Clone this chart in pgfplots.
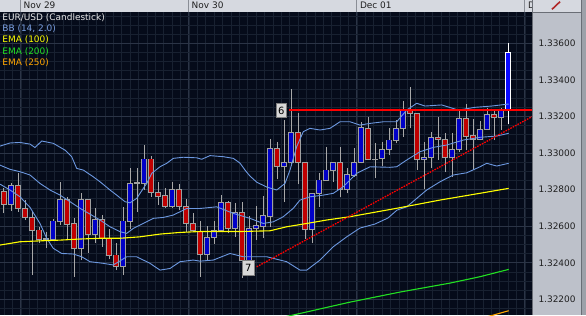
\documentclass[border=0pt]{standalone}
\usepackage{fontspec}
\setmainfont{DejaVu Sans}
\usepackage{pgfplots}
\usepackage{pgfplotstable}
\pgfplotsset{compat=1.18}

\definecolor{bgnavy}{HTML}{050B1A}
\definecolor{gridminor}{HTML}{182131}
\definecolor{gridmajor}{HTML}{2B3446}
\definecolor{topbar}{HTML}{D6D9E0}
\definecolor{panel}{HTML}{BDC1CA}
\definecolor{edgegray}{HTML}{9DA1A9}
\definecolor{panelline}{HTML}{6A6E76}
\definecolor{sepgray}{HTML}{8A8E96}
\definecolor{cred}{HTML}{C00000}
\definecolor{cblue}{HTML}{0000C8}
\definecolor{hlblue}{HTML}{0A0AFF}
\definecolor{bodygray}{HTML}{A0A0A0}
\definecolor{wickgray}{HTML}{A8A8A8}
\definecolor{bbblue}{HTML}{6C98E0}
\definecolor{bbtext}{HTML}{7BA0E2}
\definecolor{emay}{HTML}{FFFF00}
\definecolor{emag}{HTML}{22E022}
\definecolor{emao}{HTML}{FFA500}
\definecolor{trend}{HTML}{FF0000}
\definecolor{legwhite}{HTML}{E6E6E6}
\definecolor{labelgray}{HTML}{D8D8D8}
\definecolor{labelborder}{HTML}{808080}
\definecolor{pencilred}{HTML}{B02828}
\definecolor{datetext}{HTML}{202020}

\newcommand\fsz{\fontsize{9}{10}\selectfont}

\pgfplotstableread{
k open high low close
0 1.32788 1.32809 1.32672 1.32720
1 1.32720 1.32836 1.32683 1.32820
2 1.32820 1.32891 1.32679 1.32698
3 1.32698 1.32743 1.32634 1.32646
4 1.32648 1.32683 1.32333 1.32579
5 1.32579 1.32597 1.32508 1.32528
6 1.32530 1.32570 1.32483 1.32528
7 1.32528 1.32639 1.32524 1.32628
8 1.32624 1.32840 1.32606 1.32747
9 1.32747 1.32761 1.32528 1.32612
10 1.32612 1.32645 1.32322 1.32479
11 1.32479 1.32783 1.32415 1.32747
12 1.32747 1.32747 1.32455 1.32555
13 1.32555 1.32698 1.32506 1.32637
14 1.32637 1.32661 1.32488 1.32534
15 1.32534 1.32583 1.32419 1.32442
16 1.32442 1.32506 1.32360 1.32382
17 1.32382 1.32706 1.32333 1.32628
18 1.32628 1.32916 1.32583 1.32834
19 1.32834 1.32916 1.32679 1.32836
20 1.32834 1.33044 1.32798 1.32967
21 1.32967 1.32985 1.32761 1.32785
22 1.32785 1.32841 1.32716 1.32765
23 1.32765 1.32809 1.32699 1.32710
24 1.32708 1.32839 1.32698 1.32802
25 1.32802 1.32829 1.32688 1.32706
26 1.32706 1.32747 1.32570 1.32615
27 1.32615 1.32674 1.32570 1.32579
28 1.32573 1.32628 1.32324 1.32446
29 1.32446 1.32601 1.32415 1.32539
30 1.32539 1.32628 1.32502 1.32575
31 1.32575 1.32770 1.32570 1.32728
32 1.32728 1.32738 1.32561 1.32588
33 1.32588 1.32727 1.32542 1.32674
34 1.32674 1.32734 1.32316 1.32411
35 1.32411 1.32656 1.32404 1.32588
36 1.32588 1.32710 1.32524 1.32601
37 1.32601 1.32765 1.32535 1.32656
38 1.32656 1.33075 1.32597 1.33026
39 1.33026 1.33062 1.32856 1.32929
40 1.32929 1.33181 1.32734 1.32949
41 1.32949 1.33348 1.32929 1.33111
42 1.33111 1.33217 1.32830 1.32949
43 1.32949 1.32949 1.32528 1.32583
44 1.32583 1.32780 1.32506 1.32780
45 1.32780 1.32892 1.32706 1.32852
46 1.32852 1.33034 1.32852 1.32907
47 1.32907 1.32949 1.32843 1.32949
48 1.32949 1.33034 1.32758 1.32803
49 1.32803 1.32916 1.32780 1.32880
50 1.32880 1.33026 1.32870 1.32949
51 1.32949 1.33171 1.32944 1.33138
52 1.33135 1.33199 1.32962 1.32966
53 1.32966 1.33056 1.32862 1.32967
54 1.32971 1.33062 1.32929 1.33020
55 1.33020 1.33135 1.32989 1.33071
56 1.33071 1.33181 1.33053 1.33135
57 1.33135 1.33286 1.33089 1.33231
58 1.33230 1.33363 1.33135 1.33217
59 1.33217 1.33217 1.32907 1.32966
60 1.32966 1.33062 1.32802 1.32977
61 1.32974 1.33117 1.32916 1.33086
62 1.33086 1.33195 1.32962 1.33075
63 1.33075 1.33109 1.32898 1.32974
64 1.32974 1.33111 1.32870 1.33020
65 1.33020 1.33230 1.33007 1.33190
66 1.33190 1.33268 1.33016 1.33093
67 1.33097 1.33184 1.32907 1.33075
68 1.33075 1.33177 1.33071 1.33130
69 1.33130 1.33245 1.33126 1.33208
70 1.33208 1.33230 1.33071 1.33195
71 1.33195 1.33246 1.33126 1.33231
}\candles

\pgfplotstableread{
k open high low close
72 1.33231 1.33603 1.33157 1.33549
}\lastcandle

\begin{document}
\begin{tikzpicture}[x=1bp,y=1bp]
\fill[panel] (532,0) rectangle (581,303);
\fill[edgegray] (581,0) rectangle (586,315);
\fill[topbar] (0,303) rectangle (581,315);

\begin{axis}[
  width=532bp, height=303bp, scale only axis,
  at={(0,0)}, anchor=south west,
  xmin=-0.5714, xmax=75.4286,
  ymin=1.321146, ymax=1.337711,
  enlargelimits=false,
  axis line style={draw=none},
  major tick length=0pt, minor tick length=0pt,
  axis background/.style={fill=bgnavy},
  xtick={2.4,26.4,50.4,74.4}, xticklabels={},
  minor xtick={0,1.2,...,75.6},
  ytick={1.322,1.324,1.326,1.328,1.330,1.332,1.334,1.336},
  yticklabels={1.32200,1.32400,1.32600,1.32800,1.33000,1.33200,1.33400,1.33600},
  yticklabel pos=right,
  yticklabel style={anchor=west, inner sep=0pt, xshift=6.3bp, font=\fsz, text=datetext},
  minor ytick={1.3215,1.3225,1.3230,1.3235,1.3245,1.3250,1.3255,1.3265,1.3270,1.3275,1.3285,1.3290,1.3295,1.3305,1.3310,1.3315,1.3325,1.3330,1.3335,1.3345,1.3350,1.3355,1.3365,1.3370,1.3375},
  grid=both,
  minor grid style={draw=gridminor, line width=0.6bp},
  major grid style={draw=gridmajor, line width=0.9bp},
]
% wicks
\addplot [draw=none, mark=none, forget plot,
  error bars/.cd, y dir=plus, y explicit, error mark=none,
  error bar style={draw=wickgray, line width=1bp}]
  table [x=k, y=low, y error plus expr={\thisrow{high}-\thisrow{low}}] {\candles};
% body outlines
\addplot [draw=none, mark=none, forget plot,
  error bars/.cd, y dir=plus, y explicit, error mark=none,
  error bar style={draw=bodygray, line width=5.2bp, line cap=butt}]
  table [x=k, y expr={min(\thisrow{open},\thisrow{close})-0.00003}, y error plus expr={abs(\thisrow{close}-\thisrow{open})+0.00006}] {\candles};
% red bodies
\addplot [draw=none, mark=none, forget plot,
  error bars/.cd, y dir=plus, y explicit, error mark=none,
  error bar style={draw=cred, line width=3.4bp, line cap=butt}]
  table [x=k, y expr={\thisrow{close}+0.00002}, y error plus expr={max(\thisrow{open}-\thisrow{close}-0.00004,0)}] {\candles};
% blue bodies
\addplot [draw=none, mark=none, forget plot,
  error bars/.cd, y dir=plus, y explicit, error mark=none,
  error bar style={draw=cblue, line width=3.4bp, line cap=butt}]
  table [x=k, y expr={\thisrow{open}+0.00002}, y error plus expr={max(\thisrow{close}-\thisrow{open}-0.00004,0)}] {\candles};
% last (current) candle
\addplot [draw=none, mark=none, forget plot,
  error bars/.cd, y dir=plus, y explicit, error mark=none,
  error bar style={draw=white, line width=1bp}]
  table [x=k, y=low, y error plus expr={\thisrow{high}-\thisrow{low}}] {\lastcandle};
\addplot [draw=none, mark=none, forget plot,
  error bars/.cd, y dir=plus, y explicit, error mark=none,
  error bar style={draw=white, line width=5.2bp, line cap=butt}]
  table [x=k, y expr={\thisrow{open}-0.00003}, y error plus expr={\thisrow{close}-\thisrow{open}+0.00006}] {\lastcandle};
\addplot [draw=none, mark=none, forget plot,
  error bars/.cd, y dir=plus, y explicit, error mark=none,
  error bar style={draw=hlblue, line width=3.4bp, line cap=butt}]
  table [x=k, y expr={\thisrow{open}+0.00002}, y error plus expr={\thisrow{close}-\thisrow{open}-0.00004}] {\lastcandle};

% Bollinger upper
\addplot [bbblue, line width=0.9bp, mark=none] coordinates {
(-0.571,1.33038) (0.857,1.33055) (2.286,1.33058) (3.714,1.33049) (4.429,1.33030) (5.386,1.33066) (7.043,1.33053) (8.714,1.33016) (9.671,1.32980) (10.386,1.32916) (11.329,1.32907) (12.757,1.32870) (13.714,1.32843) (15.143,1.32798) (16.1,1.32770) (17.286,1.32734) (18,1.32728) (18.957,1.32752) (19.9,1.32807) (20.386,1.32834) (21.1,1.32889) (22.286,1.32925) (23.243,1.32944) (24.186,1.32971) (25.614,1.32977) (27.529,1.32974) (28.243,1.32966) (29.429,1.32986) (31.329,1.32980) (32.757,1.32971) (33.714,1.32945) (34.429,1.32907) (35.143,1.32874) (36.1,1.32841) (37.529,1.32814) (38.957,1.32798) (40.143,1.32834) (40.857,1.32907) (41.814,1.33035) (42.757,1.33117) (43.714,1.33135) (45.143,1.33126) (46.571,1.33135) (48,1.33171) (49.429,1.33171) (50.857,1.33153) (52.286,1.33162) (54.186,1.33171) (56.1,1.33171) (57.529,1.33235) (58.957,1.33272) (60.143,1.33257) (62.529,1.33263) (64.9,1.33235) (67.286,1.33250) (69.671,1.33257) (72.1,1.33268)};
% Bollinger middle
\addplot [bbblue, line width=0.9bp, mark=none] coordinates {
(-0.571,1.32934) (0.857,1.32911) (2.286,1.32898) (3.714,1.32880) (5.143,1.32834) (6.571,1.32798) (8,1.32770) (9.429,1.32734) (10.857,1.32698) (12.286,1.32666) (13.714,1.32634) (15.143,1.32597) (16.571,1.32570) (17.529,1.32561) (18.471,1.32588) (19.9,1.32615) (21.329,1.32643) (22.757,1.32648) (24.186,1.32661) (26.1,1.32697) (28,1.32697) (30.386,1.32706) (32.757,1.32670) (35.143,1.32643) (37.043,1.32615) (38.471,1.32624) (39.9,1.32652) (41.329,1.32698) (42.286,1.32743) (43.714,1.32761) (45.614,1.32770) (47.043,1.32780) (48.471,1.32816) (50.386,1.32889) (52.286,1.32925) (55.143,1.32922) (56.1,1.32925) (57.529,1.32962) (59.429,1.33007) (61.329,1.33031) (63.243,1.33044) (65.614,1.33071) (68,1.33086) (70.386,1.33093) (72.1,1.33108)};
% Bollinger lower
\addplot [bbblue, line width=0.9bp, mark=none] coordinates {
(-0.571,1.32830) (0.857,1.32798) (2.286,1.32761) (3.714,1.32703) (5.143,1.32615) (6.1,1.32534) (7.043,1.32479) (8.243,1.32451) (9.9,1.32448) (11.1,1.32433) (12.286,1.32406) (14.186,1.32397) (15.614,1.32388) (17.529,1.32433) (18.957,1.32433) (20.857,1.32397) (22.286,1.32360) (23.714,1.32369) (25.143,1.32406) (27.043,1.32415) (28,1.32409) (29.9,1.32415) (32.286,1.32451) (34.186,1.32433) (37.529,1.32433) (40.386,1.32406) (42.286,1.32360) (43.243,1.32360) (45.143,1.32415) (47.043,1.32488) (48.957,1.32542) (50.857,1.32590) (53,1.32612) (54.857,1.32645) (56.143,1.32688) (57.529,1.32706) (58.957,1.32752) (60.386,1.32798) (62.286,1.32843) (64.186,1.32880) (66.1,1.32892) (68,1.32925) (68.957,1.32944) (70.386,1.32929) (72.1,1.32944)};
% EMA 100
\addplot [emay, line width=1.1bp, mark=none] coordinates {
(-0.571,1.32497) (2.286,1.32515) (5.143,1.32520) (8,1.32524) (10.857,1.32530) (13.714,1.32534) (16.571,1.32534) (19.429,1.32542) (22.286,1.32557) (25.143,1.32566) (28,1.32571) (33.714,1.32571) (38,1.32575) (40.386,1.32597) (43.243,1.32615) (46.1,1.32634) (49.429,1.32652) (56.1,1.32698) (62.286,1.32743) (68,1.32780) (72.1,1.32807)};
% EMA 200
\addplot [emag, line width=1.1bp, mark=none] coordinates {
(39.4,1.32098) (49.429,1.32185) (56.571,1.32240) (63.714,1.32289) (68,1.32324) (72.1,1.32364)};
% EMA 250
\addplot [emao, line width=1.1bp, mark=none] coordinates {
(68,1.32094) (69.429,1.32109) (72.1,1.32138)};
% trend lines
\addplot [trend, line width=1.6bp, mark=none] coordinates {(40.757,1.33235) (75.5,1.33235)};
\addplot [trend, line width=1.3bp, mark=none, dash pattern=on 1.6bp off 1.1bp] coordinates {(36.1,1.32378) (75.43,1.33199)};

\node[fill=labelgray, draw=labelborder, line width=0.8bp, inner sep=0pt, minimum width=10.7bp, minimum height=14bp, font=\fontsize{10}{10}\selectfont, text=black] at (axis cs:39.61,1.33233) {6};
\node[fill=labelgray, draw=labelborder, line width=0.8bp, inner sep=0pt, minimum width=11.3bp, minimum height=15bp, font=\fontsize{10}{10}\selectfont, text=black] at (axis cs:34.9,1.32374) {7};
\end{axis}

% top bar separators and dates
\begin{scope}
\clip (0,303) rectangle (532,315);
\foreach \xx in {20.8,188.8,356.8,524.8} \draw[sepgray, line width=0.8bp] (\xx,303) -- (\xx,315);
\node[anchor=base west, inner sep=0pt, font=\fsz, text=datetext] at (23.5,306.7) {Nov 29};
\node[anchor=base west, inner sep=0pt, font=\fsz, text=datetext] at (191.5,306.7) {Nov 30};
\node[anchor=base west, inner sep=0pt, font=\fsz, text=datetext] at (359.8,306.7) {Dec 01};
\node[anchor=base west, inner sep=0pt, font=\fsz, text=datetext] at (528.0,306.7) {D};
\end{scope}

% panel borders
\draw[panelline, line width=1bp] (532.3,0) -- (532.3,315);
\draw[panelline, line width=0.8bp] (532,303) -- (581,303);
\draw[panelline, line width=0.8bp] (581,0) -- (581,315);
\draw[pencilred, line width=1.6bp] (552,305.7) -- (560,313.3);

% legend
\node[anchor=base west, inner sep=0pt, font=\fsz, text=legwhite] at (2.2,294.3) {EUR/USD (Candlestick)};
\node[anchor=base west, inner sep=0pt, font=\fsz, text=bbtext] at (2.2,283.2) {BB (14, 2.0)};
\node[anchor=base west, inner sep=0pt, font=\fsz, text=emay] at (2.2,272.1) {EMA (100)};
\node[anchor=base west, inner sep=0pt, font=\fsz, text=emag] at (2.2,261.0) {EMA (200)};
\node[anchor=base west, inner sep=0pt, font=\fsz, text=emao] at (2.2,249.9) {EMA (250)};

\pgfresetboundingbox
\useasboundingbox (0,0) rectangle (586,315);
\end{tikzpicture}
\end{document}
